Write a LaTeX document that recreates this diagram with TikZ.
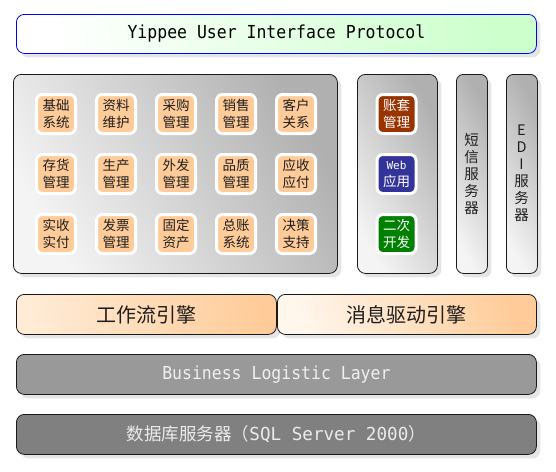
\documentclass[tikz,border=0pt]{standalone}
\usepackage{fontspec}
\setmainfont{Noto Sans CJK SC}
\newfontfamily\monof{DejaVu Sans Mono}
\usetikzlibrary{shadows}
\definecolor{peach}{HTML}{FFCC99}
\definecolor{peachlight}{HTML}{FFEBD6}
\definecolor{peachpale}{HTML}{FFF6EC}
\definecolor{lgreen}{HTML}{CCFFCC}
\definecolor{bordergray}{HTML}{1A1A1A}
\definecolor{boxgrayA}{HTML}{F4F4F4}
\definecolor{boxgrayB}{HTML}{B0B0B0}
\definecolor{bllgray}{HTML}{999999}
\definecolor{dbgray}{HTML}{808080}
\definecolor{brownbox}{HTML}{993300}
\definecolor{bluebox}{HTML}{333399}
\definecolor{greenbox}{HTML}{008000}
\definecolor{txt}{HTML}{1E1E1E}
\tikzset{
  shad/.style={drop shadow={shadow xshift=4pt, shadow yshift=-4pt, fill=black!10, opacity=1}},
  bigbox/.style={shad, draw=bordergray, line width=0.8pt, rounded corners=8pt, anchor=north west, inner sep=0pt},
  graybox/.style={bigbox, left color=boxgrayA, right color=boxgrayB, shading angle=120},
  mod/.style={draw=white, line width=3pt, rounded corners=6pt, minimum width=39pt, minimum height=39pt,
    fill=peach, inner sep=0pt, align=center, text=txt, font=\fontsize{13.5}{17}\selectfont},
  dmod/.style={mod, text=white},
  vtext/.style={align=center, text=txt, inner sep=0pt, font=\fontsize{14.5}{17}\selectfont},
  engtext/.style={text=txt, font=\fontsize{20}{20}\selectfont}
}
\begin{document}
\begin{tikzpicture}[x=1pt, y=-1pt]
\useasboundingbox (0,0) rectangle (556,471);
% top protocol bar
\node[bigbox, draw=blue, left color=white, right color=lgreen, shading angle=100,
  minimum width=520pt, minimum height=39pt] (ui) at (16,14) {};
\node (uit) at (ui.center) {\monof\fontsize{16}{16}\selectfont\scalebox{1.03}[1.12]{Yippee User Interface Protocol}};
% main module area
\node[graybox, minimum width=324pt, minimum height=199pt] (main) at (13,74) {};
\node[graybox, minimum width=80pt, minimum height=199pt] (mid) at (357,74) {};
\node[graybox, minimum width=31pt, minimum height=199pt, rounded corners=7pt] (sms) at (456,74) {};
\node[graybox, minimum width=31pt, minimum height=199pt, rounded corners=7pt] (edi) at (506,74) {};
\node[vtext] (smst) at (471.5,174) {短\\信\\服\\务\\器};
\node[vtext] (edit) at (521.5,173) {E\\D\\I\\服\\务\\器};
% modules
\node[mod] (m11) at (56,114) {基础\\系统};
\node[mod] (m12) at (116,114) {资料\\维护};
\node[mod] (m13) at (176,114) {采购\\管理};
\node[mod] (m14) at (236,114) {销售\\管理};
\node[mod] (m15) at (296,114) {客户\\关系};
\node[mod] (m21) at (56,174) {存货\\管理};
\node[mod] (m22) at (116,174) {生产\\管理};
\node[mod] (m23) at (176,174) {外发\\管理};
\node[mod] (m24) at (236,174) {品质\\管理};
\node[mod] (m25) at (296,174) {应收\\应付};
\node[mod] (m31) at (56,234) {实收\\实付};
\node[mod] (m32) at (116,234) {发票\\管理};
\node[mod] (m33) at (176,234) {固定\\资产};
\node[mod] (m34) at (236,234) {总账\\系统};
\node[mod] (m35) at (296,234) {决策\\支持};
\node[dmod, fill=brownbox] (acct) at (396.5,114) {账套\\管理};
\node[dmod, fill=bluebox] (web) at (396.5,174) {{\monof\fontsize{11}{11}\selectfont Web}\\应用};
\node[dmod, fill=greenbox] (dev) at (396.5,234) {二次\\开发};
% engines
\node[bigbox, left color=peachlight, right color=peach, shading angle=100,
  minimum width=260pt, minimum height=40pt] (wf) at (16,294) {};
\node[engtext] (wft) at (wf.center) {工作流引擎};
\node[bigbox, left color=peachpale, right color=peach, shading angle=110,
  minimum width=259pt, minimum height=40pt] (msg) at (277,294) {};
\node[engtext] (msgt) at (msg.center) {消息驱动引擎};
% layers
\node[bigbox, fill=bllgray, minimum width=520pt, minimum height=40pt] (bll) at (16,354) {};
\node[text=white!94!black] (bllt) at (bll.center) {\monof\fontsize{16}{16}\selectfont\scalebox{1.03}[1.12]{Business Logistic Layer}};
\node[bigbox, fill=dbgray, minimum width=520pt, minimum height=40pt] (db) at (16,414) {};
\node[text=white!92!black] (dbt) at (db.center) {\fontsize{17.5}{17}\selectfont 数据库服务器（{\monof\fontsize{16}{16}\selectfont\scalebox{1.1}[1.12]{SQL Server 2000}}）};
\end{tikzpicture}
\end{document}
